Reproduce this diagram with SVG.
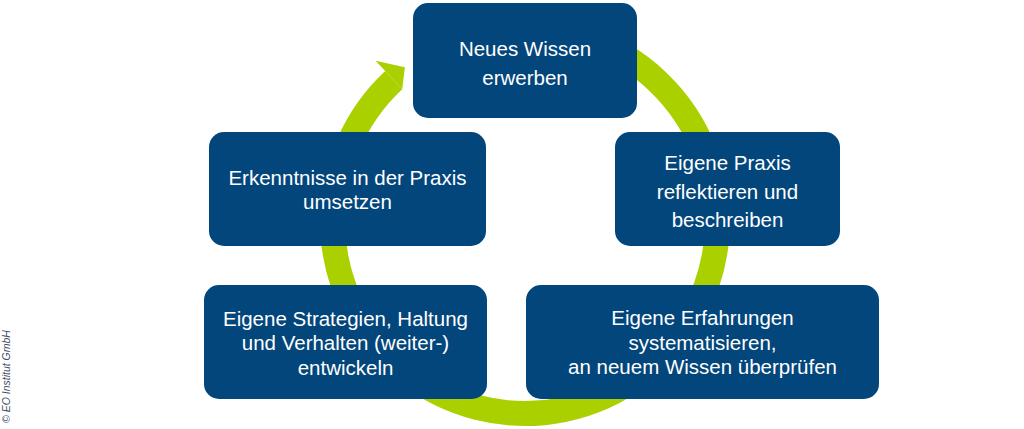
<svg xmlns="http://www.w3.org/2000/svg" width="1024" height="429" viewBox="0 0 1024 429">
<style>
.box{fill:#03467c;}
.t{font-family:"Liberation Sans",Arial,sans-serif;font-size:20.5px;fill:#ffffff;text-anchor:middle;}
.ring{fill:none;stroke:#aad000;stroke-width:25;}
.copy{font-family:"Liberation Sans",Arial,sans-serif;font-size:10.5px;font-style:italic;fill:#3d4f66;}
</style>
<rect width="1024" height="429" fill="#ffffff"/>
<g id="connectors">
<path class="ring" d="M590.8,40.1 A192.5,192.5 0 1 1 393.7,80.2"/>
<polygon points="375.6,60.8 404.9,67.3 402.2,89.3" fill="#aad000"/>
</g>
<g id="node-neues-wissen">
<rect class="box" x="413" y="3" width="224" height="115" rx="15"/>
<text class="t" x="525" y="56">Neues Wissen</text>
<text class="t" x="525" y="85">erwerben</text>
</g>
<g id="node-erkenntnisse">
<rect class="box" x="209" y="132" width="277" height="114" rx="15"/>
<text class="t" x="347.5" y="185">Erkenntnisse in der Praxis</text>
<text class="t" x="347.5" y="209">umsetzen</text>
</g>
<g id="node-eigene-praxis">
<rect class="box" x="615" y="132" width="225" height="114" rx="15"/>
<text class="t" x="727.5" y="170">Eigene Praxis</text>
<text class="t" x="727.5" y="199">reflektieren und</text>
<text class="t" x="727.5" y="227">beschreiben</text>
</g>
<g id="node-strategien">
<rect class="box" x="204" y="285" width="283" height="114" rx="15"/>
<text class="t" x="345.5" y="326">Eigene Strategien, Haltung</text>
<text class="t" x="345.5" y="350">und Verhalten (weiter-)</text>
<text class="t" x="345.5" y="375">entwickeln</text>
</g>
<g id="node-erfahrungen">
<rect class="box" x="526" y="285" width="353" height="114" rx="15"/>
<text class="t" x="702.5" y="325">Eigene Erfahrungen</text>
<text class="t" x="702.5" y="349.5">systematisieren,</text>
<text class="t" x="702.5" y="374">an neuem Wissen überprüfen</text>
</g>
<text class="copy" transform="translate(9.5,423) rotate(-90)" x="0" y="0">© EO Institut GmbH</text>
</svg>
